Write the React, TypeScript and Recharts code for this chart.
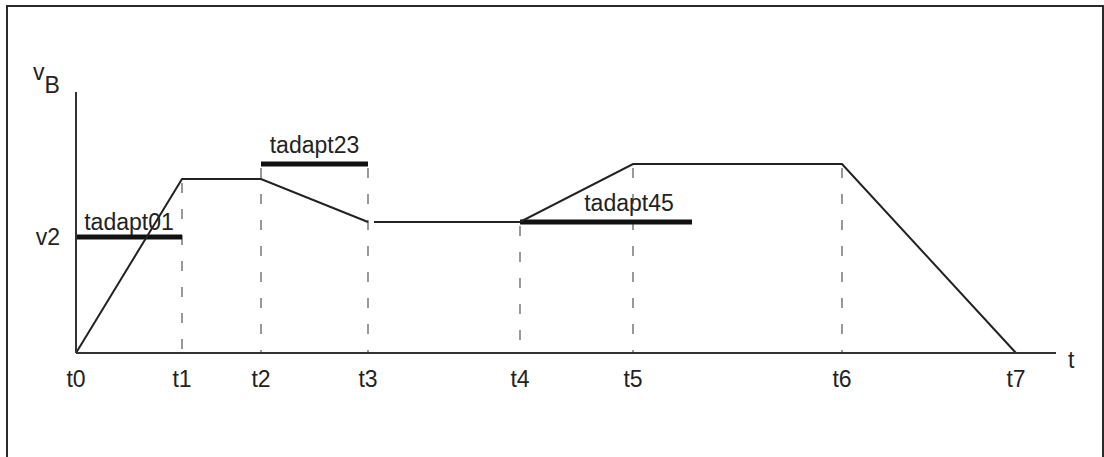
import { LineChart, Line, XAxis, YAxis, ReferenceLine } from 'recharts';

// time marks on the t axis
const tTimes = [0, 106, 185, 292, 444, 557, 766, 940];
const tLabels = ['t0', 't1', 't2', 't3', 't4', 't5', 't6', 't7'];

// speed levels
const V2 = 116;
const vFirst = 174;
const vLow = 131;
const vHigh = 189;

// velocity profile, drawn as two pieces (small gap after t3)
const profileA = [
    { t: 0, v: 0 },
    { t: 106, v: vFirst },
    { t: 185, v: vFirst },
    { t: 292, v: vLow },
];
const profileB = [
    { t: 298, v: vLow },
    { t: 444, v: vLow },
    { t: 557, v: vHigh },
    { t: 766, v: vHigh },
    { t: 940, v: 0 },
];

// adaption windows
const adaptNames = ['tadapt01', 'tadapt23', 'tadapt45'];
const adaptFrom = [0, 185, 444];
const adaptTo = [106, 292, 616];
const adaptLevel = [V2, vHigh, vLow];

// dashed guides: time and top of the guide
const guideTimes = [106, 185, 292, 444, 557, 766];
const guideTops = [vFirst, vHigh, vHigh, vLow, vHigh, vHigh];

const font = 'Liberation Sans, Arial, sans-serif';
const ink = '#222';
const fs = 23;

// label placement tweaks (pixels)
const labelShift = [0, 0, 23];
const labelLift = [7, 11, 11];

const App = () => (
    <div style={{ position: 'absolute', left: 0, top: 0, width: 1104, height: 457, background: '#fff', overflow: 'hidden' }}>
        <div
            style={{
                position: 'absolute',
                left: 6,
                top: 5,
                width: 1098,
                height: 480,
                boxSizing: 'border-box',
                border: '2px solid #2a2a2a',
            }}
        />
        <LineChart
            width={1104}
            height={457}
            margin={{ top: 92, right: 48, bottom: 74, left: 75 }}
            style={{ position: 'absolute', left: 0, top: 0 }}
        >
            <XAxis
                dataKey="t"
                type="number"
                domain={[0, 980]}
                ticks={tTimes}
                interval={0}
                tickFormatter={(val: number) => tLabels[tTimes.indexOf(val)]}
                tickLine={false}
                tickMargin={12}
                height={30}
                axisLine={{ stroke: '#333', strokeWidth: 2 }}
                tick={{ fill: ink, fontSize: fs, fontFamily: font }}
                label={(props: any) => (
                    <text
                        x={props.viewBox.x + props.viewBox.width + 12}
                        y={props.viewBox.y + 15}
                        fill={ink}
                        fontSize={fs}
                        fontFamily={font}
                    >
                        t
                    </text>
                )}
            />
            <YAxis
                type="number"
                domain={[0, 261]}
                ticks={[V2]}
                tickFormatter={() => 'v2'}
                width={1}
                tickLine={false}
                tickMargin={10}
                axisLine={{ stroke: '#333', strokeWidth: 2 }}
                tick={{ fill: ink, fontSize: fs, fontFamily: font }}
                label={(props: any) => (
                    <text x={props.viewBox.x - 42} y={props.viewBox.y - 12} fill={ink} fontSize={fs} fontFamily={font}>
                        <tspan>v</tspan>
                        <tspan dy={13}>B</tspan>
                    </text>
                )}
            />
            {guideTimes.map((t, i) => (
                <ReferenceLine
                    key={'g' + i}
                    segment={[
                        { x: t, y: guideTops[i] },
                        { x: t, y: 0 },
                    ]}
                    stroke="#555"
                    strokeWidth={1.2}
                    strokeDasharray="10 16"
                    strokeDashoffset={-4}
                />
            ))}
            {adaptNames.map((name, i) => (
                <ReferenceLine
                    key={name}
                    segment={[
                        { x: adaptFrom[i], y: adaptLevel[i] },
                        { x: adaptTo[i], y: adaptLevel[i] },
                    ]}
                    stroke="#111"
                    strokeWidth={5}
                    label={(props: any) => (
                        <text
                            x={props.viewBox.x + props.viewBox.width / 2 + labelShift[i]}
                            y={props.viewBox.y - labelLift[i]}
                            textAnchor="middle"
                            fill={ink}
                            fontSize={fs}
                            fontFamily={font}
                        >
                            {name}
                        </text>
                    )}
                />
            ))}
            <Line data={profileA} dataKey="v" stroke={ink} strokeWidth={2} dot={false} activeDot={false} isAnimationActive={false} />
            <Line data={profileB} dataKey="v" stroke={ink} strokeWidth={2} dot={false} activeDot={false} isAnimationActive={false} />
        </LineChart>
    </div>
);

export default App;
